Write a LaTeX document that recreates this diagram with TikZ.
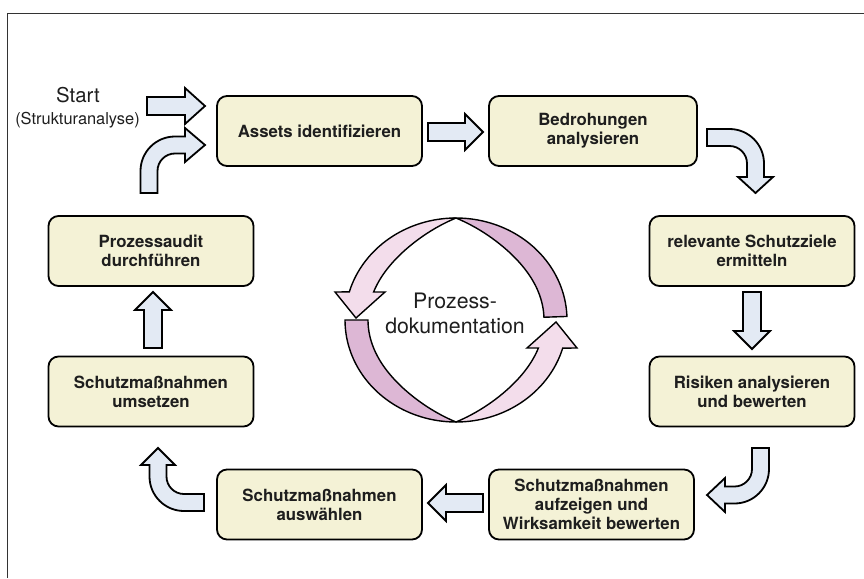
\documentclass[tikz,border=0pt]{standalone}
\usepackage{fontspec}
\setmainfont{TeX Gyre Heros}
\usetikzlibrary{calc}
\definecolor{boxfill}{HTML}{F4F2D6}
\definecolor{arrfill}{HTML}{E3EAF4}
\definecolor{pinklight}{HTML}{F3DDEB}
\definecolor{pinkdark}{HTML}{DDB7D5}
\definecolor{framegray}{HTML}{333333}
\definecolor{txt}{HTML}{1E1E1E}
\begin{document}
\begin{tikzpicture}[x=1pt,y=-1pt,
  declare function={
    wd(\t)=23*(1-(1-abs(cos(\t)))^2);
    outx(\t)=456+111*cos(\t);
    outy(\t)=320+102*sin(\t);
    inx(\t)=456+(111-wd(\t))*cos(\t);
    iny(\t)=320+(102-wd(\t))*sin(\t);
  },
  box/.style={draw=black, line width=1.8pt, fill=boxfill, rounded corners=10pt,
    minimum width=205pt, minimum height=70pt, align=center, inner sep=0pt,
    text=txt, font=\fontsize{16.8}{19}\selectfont\bfseries},
  barrow/.style={draw=black, line width=1.8pt, fill=arrfill, line join=miter},
  ringlight/.style={draw=black, line width=1.4pt, fill=pinklight, line join=miter},
  ringdark/.style={draw=black, line width=1.4pt, fill=pinkdark, line join=miter},
  plain/.style={text=txt, inner sep=0pt}]
\useasboundingbox (0,0) rectangle (864,578);
\draw[framegray, line width=1.5pt] (7.5,578) -- (7.5,13.5) -- (864,13.5);

% boxes
\node[box] (assets)  at (319.5,131)   {Assets identifizieren};
\node[box, minimum width=208pt] (bedro) at (593,131) {Bedrohungen\\analysieren};
\node[box] (ziele)   at (752,251)     {relevante Schutzziele\\ermitteln};
\node[box] (risiken) at (752,391.5)   {Risiken analysieren\\und bewerten};
\node[box] (aufz)    at (591.5,504.5) {Schutzmaßnahmen\\aufzeigen und\\Wirksamkeit bewerten};
\node[box] (auswahl) at (319.5,504.5) {Schutzmaßnahmen\\auswählen};
\node[box] (umsetz)  at (151,391.5)   {Schutzmaßnahmen\\umsetzen};
\node[box] (audit)   at (151,251)     {Prozessaudit\\durchführen};

% start text
\node[plain, anchor=base, font=\fontsize{20.4}{24}\selectfont] (start) at (78,102) {Start};
\node[plain, anchor=base, font=\fontsize{16.4}{19}\selectfont] (struk) at (77.5,124) {(Strukturanalyse)};

% straight block arrows
\draw[barrow] (147,97) -- (185,97) -- (185,88) -- (205,106) -- (185,124) -- (185,115) -- (147,115) -- cycle;
\draw[barrow] (428,123) -- (465,123) -- (465,114) -- (483,132) -- (465,150) -- (465,141) -- (428,141) -- cycle;
\draw[barrow] (483,494) -- (446,494) -- (446,485) -- (428,503) -- (446,521) -- (446,512) -- (483,512) -- cycle;
\draw[barrow] (743,292) -- (743,331) -- (734,331) -- (752,349) -- (770,331) -- (761,331) -- (761,292) -- cycle;
\draw[barrow] (144,348) -- (144,310) -- (135,310) -- (153,292) -- (171,310) -- (162,310) -- (162,348) -- cycle;

% curved block arrows
\draw[barrow] (140.5,193) -- (140.5,171) arc[start angle=180, end angle=270, radius=34.5]
  -- (185,136.5) -- (185,128) -- (205,145) -- (185,162) -- (185,153.5) -- (175,153.5)
  arc[start angle=270, end angle=180, radius=17.5] -- (157.5,193) -- cycle;
\draw[barrow] (707,129) -- (729.5,129) arc[start angle=270, end angle=360, radius=34.5]
  -- (764,177) -- (773,177) -- (755.5,193) -- (738,177) -- (747,177) -- (747,163.5)
  arc[start angle=0, end angle=-90, radius=17.5] -- (707,146) -- cycle;
\draw[barrow] (752,448) -- (769,448) -- (769,469) arc[start angle=0, end angle=90, radius=34.5]
  -- (725,503.5) -- (725,512) -- (707,495) -- (725,478) -- (725,486.5) -- (734.5,486.5)
  arc[start angle=90, end angle=0, radius=17.5] -- cycle;
\draw[barrow] (204,511) -- (184,511) arc[start angle=90, end angle=180, radius=34.5]
  -- (149.5,465) -- (141,465) -- (158,448) -- (175,465) -- (166.5,465) -- (166.5,476.5)
  arc[start angle=180, end angle=90, radius=17.5] -- (204,494) -- cycle;

% central ribbon arrows
\draw[ringdark] plot[domain=270:358, samples=45, variable=\t] ({outx(\t)},{outy(\t)})
  -- plot[domain=358:270, samples=45, variable=\t] ({inx(\t)},{iny(\t)}) -- cycle;
\draw[ringlight] plot[domain=270:196, samples=45, variable=\t] ({outx(\t)},{outy(\t)})
  -- (335,292) -- (356,318) -- (385,292)
  -- plot[domain=200.7:270, samples=45, variable=\t] ({inx(\t)},{iny(\t)}) -- cycle;
\draw[ringdark] plot[domain=180:90, samples=45, variable=\t] ({outx(\t)},{outy(\t)})
  -- plot[domain=90:180, samples=45, variable=\t] ({inx(\t)},{iny(\t)}) -- cycle;
\draw[ringlight] plot[domain=90:16, samples=45, variable=\t] ({outx(\t)},{outy(\t)})
  -- (577,348) -- (556,322) -- (527,348)
  -- plot[domain=20.7:90, samples=45, variable=\t] ({inx(\t)},{iny(\t)}) -- cycle;
\node[plain, align=center, font=\fontsize{21.3}{25}\selectfont] (doc) at (455,313) {Prozess-\\dokumentation};
\end{tikzpicture}
\end{document}
